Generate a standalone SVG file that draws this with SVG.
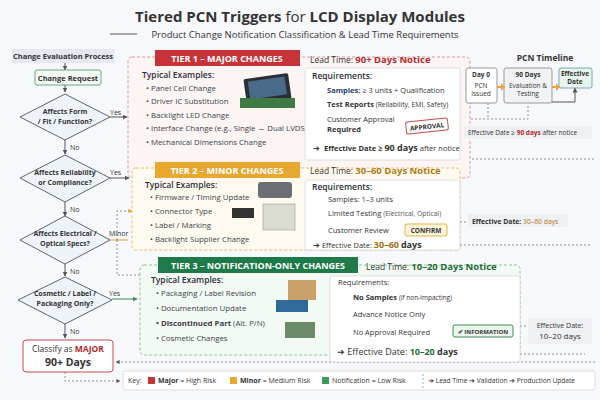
<svg xmlns="http://www.w3.org/2000/svg" width="600" height="400" viewBox="0 0 600 400">
<style>
text{font-family:"Open Sans","Liberation Sans",sans-serif;fill:#333}
.b{font-weight:bold}
.t{font-size:8.5px;fill:#2b2f3a;font-weight:600}
.s{font-size:7.5px}
.ds{font-size:7px;font-weight:bold}
.ex{font-size:7.8px;fill:#3a3f4a}
.dia{fill:#eef3fa;stroke:#5a6577;stroke-width:1}
.hdr{font-size:9px;font-weight:bold;fill:#fff}
.con{fill:none;stroke:#555;stroke-width:1}
.dash{fill:none;stroke:#777;stroke-width:0.8;stroke-dasharray:2 2}
.card{fill:#fff;stroke:#ccc;stroke-width:0.6}
</style>
<defs>
<marker id="ar" viewBox="0 0 10 10" refX="9" refY="5" markerWidth="5" markerHeight="5" orient="auto"><path d="M0,0L10,5L0,10z" fill="#555"/></marker>
<marker id="ao" viewBox="0 0 10 10" refX="9" refY="5" markerWidth="5" markerHeight="5" orient="auto"><path d="M0,0L10,5L0,10z" fill="#e3a020"/></marker>
<marker id="ag" viewBox="0 0 10 10" refX="9" refY="5" markerWidth="5" markerHeight="5" orient="auto"><path d="M0,0L10,5L0,10z" fill="#3c8a50"/></marker>
</defs>
<rect width="600" height="400" fill="#f7f8fb"/>
<text x="300" y="22" text-anchor="middle" font-size="15" class="b" fill="#1d2230">Tiered PCN Triggers <tspan font-weight="normal">for</tspan> LCD Display Modules</text>
<line x1="110" y1="34" x2="137" y2="34" stroke="#555"/>
<text x="305" y="38" text-anchor="middle" font-size="9.5" fill="#444">Product Change Notification Classification &amp; Lead Time Requirements</text>

<g id="connectors">
<line class="con" x1="65" y1="62" x2="65" y2="70" marker-end="url(#ar)"/>
<line class="con" x1="65" y1="84" x2="65" y2="92" marker-end="url(#ar)"/>
<line class="con" x1="65" y1="140" x2="65" y2="154" marker-end="url(#ar)"/>
<line class="con" x1="65" y1="202" x2="65" y2="216" marker-end="url(#ar)"/>
<line class="con" x1="65" y1="264" x2="65" y2="276" marker-end="url(#ar)"/>
<line class="con" x1="65" y1="324" x2="65" y2="338" marker-end="url(#ar)"/>
<line class="con" x1="110" y1="117" x2="127" y2="117" marker-end="url(#ar)"/>
<line class="con" x1="110" y1="178" x2="129" y2="178" marker-end="url(#ar)"/>
<line x1="110" y1="240" x2="128" y2="240" stroke="#e3a020"/>
<polyline class="dash" points="117,240 117,211 132,211" stroke="#e3a020" marker-end="url(#ao)"/>
<polyline class="dash" points="117,240 117,275 140,275"/>
<line x1="112" y1="299" x2="137" y2="299" stroke="#3c8a50" marker-end="url(#ag)"/>
<polyline class="dash" points="65,372 65,381 120,381" marker-end="url(#ar)"/>
<polyline class="dash" points="595,362 116,362" marker-end="url(#ar)"/>
<line class="dash" x1="300" y1="159" x2="595" y2="159"/>
<line class="dash" x1="460" y1="245" x2="590" y2="245"/>
<line class="dash" x1="520" y1="354" x2="585" y2="354"/>
<line class="dash" x1="460" y1="222" x2="468" y2="222"/>
<line class="dash" x1="520" y1="326" x2="528" y2="326"/>
<polyline class="dash" points="455,119 528,119 528,105" stroke="#3c8a50"/>
<line class="dash" x1="488" y1="103" x2="488" y2="119" stroke="#3c8a50"/>
<line class="dash" x1="455" y1="133" x2="463" y2="133"/>
<polyline class="con" points="458,90 466,90"/>
<polyline class="con" points="552,102 575,102 575,88" marker-end="url(#ar)"/>
</g>

<g id="process">
<rect x="12" y="49" width="103" height="14" fill="#e4e8f0"/>
<text x="63" y="59" text-anchor="middle" class="s b" fill="#333">Change Evaluation Process</text>
</g>
<g id="change-request">
<rect x="35" y="70" width="66" height="15" rx="2" fill="#f4faf4" stroke="#6aaa78"/>
<text x="68" y="80.5" text-anchor="middle" class="s b">Change Request</text>
</g>
<g id="d1"><polygon class="dia" points="65,94 110,117 65,140 20,117"/>
<text x="65" y="114" text-anchor="middle" class="ds">Affects Form</text><text x="65" y="124" text-anchor="middle" class="ds">/ Fit / Function?</text>
<text x="110" y="115" font-size="7">Yes</text><text x="70" y="150" font-size="7">No</text></g>
<g id="d2"><polygon class="dia" points="65,155 110,178 65,202 20,178"/>
<text x="65" y="175" text-anchor="middle" class="ds">Affects Reliability</text><text x="65" y="185" text-anchor="middle" class="ds">or Compliance?</text>
<text x="110" y="175" font-size="7">Yes</text><text x="70" y="212" font-size="7">No</text></g>
<g id="d3"><polygon class="dia" points="65,216 110,240 65,264 20,240"/>
<text x="65" y="236" text-anchor="middle" class="ds">Affects Electrical /</text><text x="65" y="246" text-anchor="middle" class="ds">Optical Specs?</text>
<text x="109" y="236" font-size="7">Minor</text><text x="70" y="274" font-size="7">No</text></g>
<g id="d4"><polygon class="dia" points="65,277 112,300 65,324 18,300"/>
<text x="65" y="296" text-anchor="middle" class="ds">Cosmetic / Label /</text><text x="65" y="306" text-anchor="middle" class="ds">Packaging Only?</text>
<text x="109" y="296" font-size="7">Yes</text><text x="70" y="334" font-size="7">No</text></g>
<g id="classify">
<rect x="23" y="340" width="90" height="32" rx="3" fill="#fff" stroke="#c94a4a"/>
<text x="68" y="352" text-anchor="middle" font-size="8.5">Classify as <tspan class="b" fill="#b52a2a">MAJOR</tspan></text>
<text x="68" y="366" text-anchor="middle" font-size="10.5" class="b">90+ Days</text>
</g>

<g id="tier1">
<rect x="128" y="57" width="342" height="121" rx="4" fill="#fdf4f4" stroke="#d99" stroke-dasharray="3 2"/>
<rect x="155" y="50" width="145" height="16" fill="#c8333a"/>
<text x="227" y="61.5" text-anchor="middle" class="hdr">TIER 1 – MAJOR CHANGES</text>
<text x="310" y="63" font-size="8.5">Lead Time: <tspan class="b" fill="#b52a2a" font-size="9.5">90+ Days Notice</tspan></text>
<text x="142" y="78" class="t">Typical Examples:</text>
<text x="146" y="91" class="ex">• Panel Cell Change</text>
<text x="146" y="104" class="ex">• Driver IC Substitution</text>
<text x="146" y="118" class="ex">• Backlight LED Change</text>
<text x="146" y="131" class="ex" font-size="6.6">• Interface Change (e.g., Single → Dual LVDS)</text>
<text x="146" y="145" class="ex">• Mechanical Dimensions Change</text>
<rect x="245" y="76" width="45" height="26" rx="2" fill="#2a2f35" transform="rotate(-8 267 89)"/>
<rect x="249" y="79" width="37" height="18" fill="#4a6a8a" transform="rotate(-8 267 89)"/>
<rect x="240" y="98" width="55" height="10" fill="#3f7a45"/>
<rect x="305" y="68" width="155" height="92" rx="2" class="card"/>
<text x="312" y="79" class="t" font-size="8">Requirements:</text>
<text x="327" y="93" font-size="7.5"><tspan class="b" fill="#2a3b6a">Samples:</tspan> ≥ 3 units + Qualification</text>
<text x="327" y="107" font-size="6.8"><tspan class="b" font-size="7.5">Test Reports</tspan> (Reliability, EMI, Safety)</text>
<text x="327" y="122" font-size="7.5">Customer Approval</text>
<text x="327" y="132" font-size="7.5" class="b">Required</text>
<rect x="406" y="120" width="42" height="12" rx="2" fill="#fff" stroke="#c94a4a" transform="rotate(-6 427 126)"/>
<text x="427" y="129" text-anchor="middle" font-size="6.5" class="b" fill="#c8333a" transform="rotate(-6 427 126)">APPROVAL</text>
<text x="313" y="151" font-size="7.5" fill="#777">➔</text>
<text x="324" y="151" font-size="7.5" class="b">Effective Date ≥ <tspan font-size="9">90 days</tspan> <tspan font-weight="normal">after notice</tspan></text>
</g>

<g id="timeline">
<text x="545" y="61" text-anchor="middle" font-size="8.5" class="b">PCN Timeline</text>
<rect x="466" y="68" width="31" height="35" rx="2" fill="#fff" stroke="#999"/>
<text x="481" y="77" text-anchor="middle" font-size="6.5" class="b">Day 0</text>
<text x="481" y="88" text-anchor="middle" font-size="6.5">PCN</text><text x="481" y="96" text-anchor="middle" font-size="6.5">Issued</text>
<rect x="504" y="68" width="48" height="35" rx="2" fill="#f0f2f6" stroke="#999"/>
<text x="528" y="77" text-anchor="middle" font-size="6.5" class="b">90 Days</text>
<text x="528" y="88" text-anchor="middle" font-size="6.5">Evaluation &amp;</text><text x="528" y="96" text-anchor="middle" font-size="6.5">Testing</text>
<rect x="559" y="68" width="33" height="20" rx="2" fill="#e6f4ec" stroke="#7ab"/>
<text x="575" y="76" text-anchor="middle" font-size="6.5" class="b">Effective</text><text x="575" y="84" text-anchor="middle" font-size="6.5" class="b">Date</text>
<path d="M497,86h4v-3l4,4l-4,4v-3h-4z" fill="#f0a040"/>
<path d="M552,86h4v-3l4,4l-4,4v-3h-4z" fill="#f0a040"/>
<rect x="464" y="126" width="128" height="13" fill="#eef0f4"/>
<text x="468" y="135" font-size="6.5">Effective Date ≥ <tspan fill="#b52a2a" class="b">90 days</tspan> after notice</text>
</g>

<g id="tier2">
<rect x="132" y="168" width="328" height="82" rx="4" fill="#fffaf0" stroke="#e8c070" stroke-dasharray="3 2"/>
<rect x="155" y="162" width="145" height="16" fill="#e8a830"/>
<text x="227" y="173.5" text-anchor="middle" class="hdr">TIER 2 – MINOR CHANGES</text>
<text x="310" y="174" font-size="8.5">Lead Time: <tspan class="b" fill="#b07a10" font-size="9.5">30–60 Days Notice</tspan></text>
<text x="145" y="188" class="t">Typical Examples:</text>
<text x="150" y="200" class="ex">• Firmware / Timing Update</text>
<text x="150" y="214" class="ex">• Connector Type</text>
<text x="150" y="228" class="ex">• Label / Marking</text>
<text x="150" y="242" class="ex">• Backlight Supplier Change</text>
<rect x="258" y="182" width="34" height="16" rx="3" fill="#6b6f75"/>
<rect x="232" y="208" width="22" height="10" fill="#333"/>
<rect x="263" y="204" width="32" height="26" fill="#d9dccf" stroke="#888" stroke-width="0.5"/>
<rect x="305" y="180" width="155" height="70" rx="2" class="card"/>
<text x="312" y="190" class="t" font-size="8">Requirements:</text>
<text x="328" y="202" font-size="7.5">Samples:  1–3 units</text>
<text x="328" y="216" font-size="7.5">Limited Testing <tspan font-size="6.8" fill="#555">(Electrical, Optical)</tspan></text>
<text x="328" y="233" font-size="7.5">Customer Review</text>
<rect x="405" y="224" width="42" height="12" rx="2" fill="#fff6dc" stroke="#e8b040"/>
<text x="426" y="233" text-anchor="middle" font-size="6.5" class="b" fill="#a07010">CONFIRM</text>
<text x="313" y="248" font-size="7.5">➔ Effective Date: <tspan class="b" fill="#a07010" font-size="9">30–60</tspan> <tspan class="b" font-size="9">days</tspan></text>
<rect x="468" y="214" width="100" height="13" fill="#eef0f4"/>
<text x="472" y="224" font-size="6.8" class="b">Effective Date: <tspan fill="#b07a10" font-weight="normal">30–60 days</tspan></text>
</g>

<g id="tier3">
<rect x="140" y="265" width="380" height="90" rx="4" fill="#f3faf4" stroke="#8c8" stroke-dasharray="3 2"/>
<rect x="158" y="257" width="200" height="16" fill="#1e7a48"/>
<text x="258" y="268.5" text-anchor="middle" class="hdr">TIER 3 – NOTIFICATION-ONLY CHANGES</text>
<text x="366" y="270" font-size="8.5">Lead Time: <tspan class="b" fill="#1e6a3a" font-size="9.5">10–20 Days Notice</tspan></text>
<text x="151" y="283" class="t">Typical Examples:</text>
<text x="156" y="296" class="ex">• Packaging / Label Revision</text>
<text x="156" y="311" class="ex">• Documentation Update</text>
<text x="156" y="326" class="ex"><tspan class="b">• Discontinued Part</tspan> (Alt. P/N)</text>
<text x="156" y="341" class="ex">• Cosmetic Changes</text>
<rect x="288" y="280" width="28" height="20" fill="#c9a06a"/>
<rect x="276" y="300" width="32" height="12" fill="#2e6a9a"/>
<rect x="285" y="322" width="30" height="16" fill="#6a8a6a"/>
<rect x="330" y="276" width="190" height="86" rx="2" class="card"/>
<text x="338" y="285" font-size="7.5">Requirements:</text>
<text x="353" y="300" font-size="7.5"><tspan class="b">No Samples</tspan> <tspan font-size="6.5">(if non-impacting)</tspan></text>
<text x="353" y="317" font-size="7.5">Advance Notice Only</text>
<text x="353" y="335" font-size="7.5">No Approval Required</text>
<rect x="453" y="325" width="60" height="12" rx="2" fill="#eaf6ec" stroke="#3c8a50"/>
<text x="483" y="334" text-anchor="middle" font-size="6" class="b" fill="#1e6a3a">✔ INFORMATION</text>
<text x="337" y="355" font-size="9">➔ Effective Date: <tspan class="b" fill="#1e6a3a">10–20</tspan> <tspan class="b">days</tspan></text>
<rect x="528" y="318" width="64" height="26" fill="#eef0f4"/>
<text x="560" y="328" text-anchor="middle" font-size="7">Effective Date:</text>
<text x="560" y="339" text-anchor="middle" font-size="8" fill="#1e6a3a">10–20 days</text>
</g>

<g id="key">
<rect x="123" y="371" width="472" height="19" rx="2" fill="#fff" stroke="#ddd"/>
<text x="128" y="383" font-size="7">Key:</text>
<rect x="148" y="377" width="7" height="7" fill="#c8333a"/>
<text x="158" y="383" font-size="7"><tspan class="b">Major</tspan> = High Risk</text>
<rect x="230" y="377" width="7" height="7" fill="#e8a830"/>
<text x="240" y="383" font-size="7"><tspan class="b">Minor</tspan> = Medium Risk</text>
<rect x="322" y="377" width="7" height="7" fill="#3c9a5a"/>
<text x="332" y="383" font-size="7">Notification = Low Risk</text>
<line x1="423" y1="374" x2="423" y2="388" stroke="#aaa" stroke-dasharray="2 2"/>
<text x="428" y="383" font-size="6.6">➔ Lead Time ➔ Validation ➔ Production Update</text>
</g>
</svg>
